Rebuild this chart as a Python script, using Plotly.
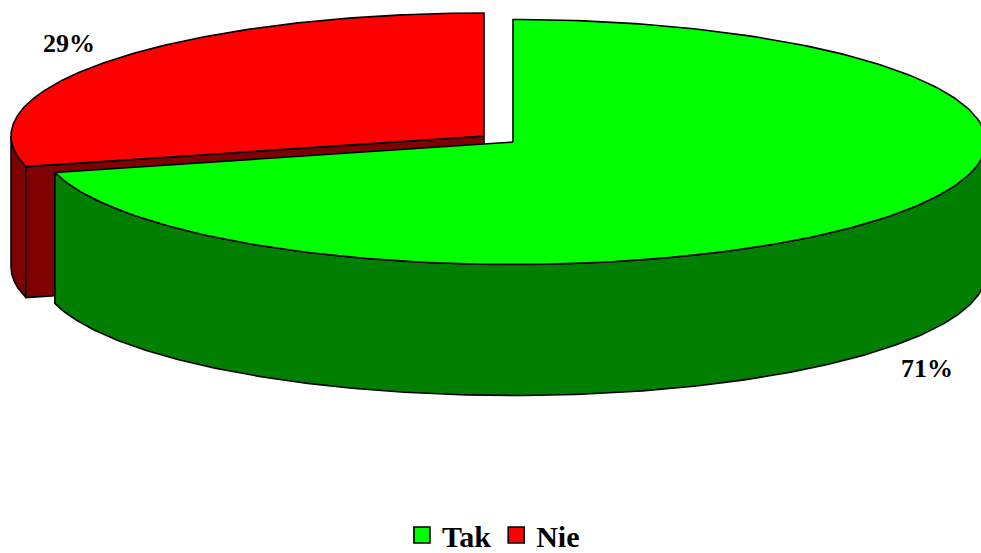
import numpy as np
import plotly.graph_objects as go

categories = ["Tak", "Nie"]
shares = [71, 29]
top_colors = ["#00FF00", "#FF0000"]
side_colors = ["#007F00", "#7F0000"]

W, H = 981, 553
PAD = 30  # figure runs past the window so the legend can sit at the very bottom
DEPTH = 131
LINE = dict(color="black", width=1.6)

# centre and radii of the projected pie
green_c = (513, 142); green_r = (473, 122.5)
red_c = (484, 136); red_r = (473, 123)


def pt(c, r, deg, dy=0):
    a = np.radians(deg)
    return c[0] + r[0] * np.sin(a), c[1] - r[1] * np.cos(a) + dy


def arc(c, r, a0, a1, dy=0):
    t = np.linspace(a0, a1, 240)
    x, y = pt(c, r, t, dy)
    return list(x), list(y)


split = 360 * shares[0] / sum(shares)

fig = go.Figure()


def poly(x, y, color):
    fig.add_trace(go.Scatter(x=x, y=y, mode="lines", fill="toself", fillcolor=color,
                             line=LINE, showlegend=False, hoverinfo="skip"))


def side(c, r, a0, a1, color):
    x0, y0 = arc(c, r, a0, a1)
    x1, y1 = arc(c, r, a1, a0, DEPTH)
    poly(x0 + x1 + x0[:1], y0 + y1 + y0[:1], color)


def wedge(c, r, a0, a1, color):
    x, y = arc(c, r, a0, a1)
    poly([c[0]] + x + [c[0]], [c[1]] + y + [c[1]], color)


# red slice: outer wall, cut wall, top
side(red_c, red_r, split, 270, side_colors[1])
rx, ry = pt(red_c, red_r, split)
poly([red_c[0], rx, rx, red_c[0], red_c[0]],
     [red_c[1], ry, ry + DEPTH, red_c[1] + DEPTH, red_c[1]], side_colors[1])
wedge(red_c, red_r, split, 360, top_colors[1])

# green slice: outer wall, top
side(green_c, green_r, 90, split, side_colors[0])
wedge(green_c, green_r, 0, split, top_colors[0])

# legend entries
for name, color in zip(categories, top_colors):
    fig.add_trace(go.Scatter(x=[None], y=[None], mode="markers", name=name,
                             marker=dict(symbol="square", size=18, color=color,
                                         line=dict(color="black", width=1.6))))

FONT = "Liberation Serif"
fig.add_annotation(x=927, y=368, text=f"<b>{shares[0]}%</b>", showarrow=False,
                   font=dict(family=FONT, size=26, color="black"))
fig.add_annotation(x=69, y=43, text=f"<b>{shares[1]}%</b>", showarrow=False,
                   font=dict(family=FONT, size=26, color="black"))

fig.update_layout(
    width=W, height=H + PAD, margin=dict(l=0, r=0, t=0, b=0),
    paper_bgcolor="white", plot_bgcolor="white",
    xaxis=dict(range=[0, W], visible=False, fixedrange=True),
    yaxis=dict(range=[H + PAD, 0], visible=False, fixedrange=True),
    legend=dict(orientation="h", x=0.503, xanchor="center",
                y=1 - 535 / (H + PAD), yanchor="middle",
                font=dict(family=FONT, size=30, color="black", weight="bold"),
                bgcolor="rgba(0,0,0,0)", itemclick=False, itemdoubleclick=False),
    showlegend=True,
)

fig.write_html("out.html", config=dict(displayModeBar=False),
               post_script="document.body.style.margin='0';document.documentElement.style.overflow='hidden';document.body.style.overflow='hidden';")
